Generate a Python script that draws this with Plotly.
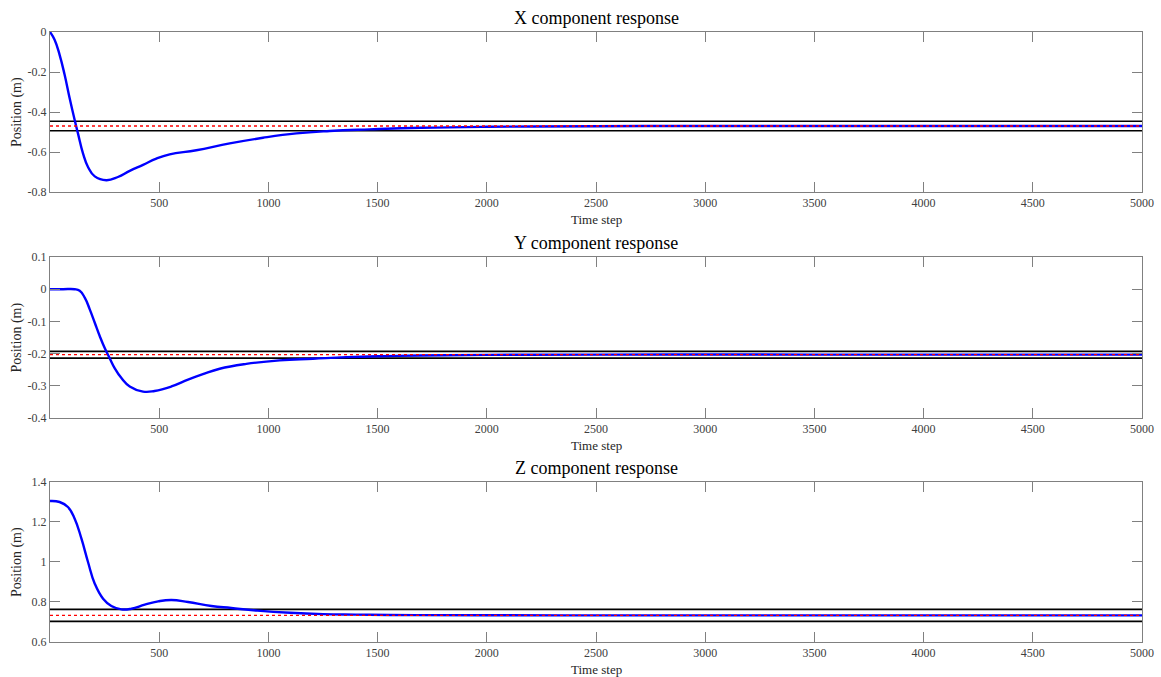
import plotly.graph_objects as go

# ---- data ----
x_steps = [0, 21, 44, 67, 90, 113, 128, 151, 174, 205, 258, 311, 365, 426, 487, 548, 670, 823,
           975, 1128, 1281, 1464, 1700, 2000, 2500, 3000, 4000, 5000]
x_pos = [0, -0.039, -0.114, -0.214, -0.331, -0.44, -0.507, -0.607, -0.675, -0.722, -0.741, -0.725,
         -0.694, -0.664, -0.633, -0.612, -0.591, -0.557, -0.529, -0.507, -0.495, -0.487, -0.479,
         -0.474, -0.471, -0.47, -0.47, -0.47]

y_steps = [0, 60, 113, 136, 159, 182, 205, 228, 250, 273, 296, 327, 365, 426, 479, 556, 632, 700,
           777, 899, 1052, 1204, 1357, 1510, 1693, 2000, 2500, 3500, 5000]
y_pos = [0, 0, 0, -0.005, -0.026, -0.0625, -0.104, -0.146, -0.182, -0.214, -0.245, -0.276, -0.302,
         -0.318, -0.316, -0.302, -0.281, -0.264, -0.247, -0.232, -0.221, -0.216, -0.211, -0.208,
         -0.206, -0.204, -0.203, -0.203, -0.203]

z_steps = [0, 44, 82, 113, 144, 174, 205, 243, 281, 327, 373, 434, 495, 556, 632, 739, 830, 950,
           1100, 1250, 1400, 1555, 2000, 3000, 4000, 5000]
z_pos = [1.305, 1.30, 1.275, 1.2165, 1.1165, 1.0, 0.8915, 0.8165, 0.78, 0.763, 0.7665, 0.7865,
         0.803, 0.81, 0.80, 0.78, 0.77, 0.757, 0.746, 0.7395, 0.737, 0.735, 0.7335, 0.733, 0.733,
         0.733]

targets = [-0.47, -0.203, 0.733]
upper_bounds = [-0.4465, -0.193, 0.763]
lower_bounds = [-0.4935, -0.214, 0.703]

titles = ["X component response", "Y component response", "Z component response"]
y_ranges = [[-0.8, 0], [-0.4, 0.1], [0.6, 1.4]]
y_tickvals = [[-0.8, -0.6, -0.4, -0.2, 0],
              [-0.4, -0.3, -0.2, -0.1, 0, 0.1],
              [0.6, 0.8, 1.0, 1.2, 1.4]]
y_ticktext = [["-0.8", "-0.6", "-0.4", "-0.2", "0"],
              ["-0.4", "-0.3", "-0.2", "-0.1", "0", "0.1"],
              ["0.6", "0.8", "1", "1.2", "1.4"]]
x_tickvals = [500, 1000, 1500, 2000, 2500, 3000, 3500, 4000, 4500, 5000]
x_end = 5000

# ---- figure ----
FONT = "Liberation Serif, Times New Roman, serif"
fig = go.Figure()
domains = [[0.7377, 1.0], [0.3672, 0.6311], [0.0, 0.2623]]
series = [(x_steps, x_pos), (y_steps, y_pos), (z_steps, z_pos)]

for i in range(3):
    xa = "x" if i == 0 else f"x{i+1}"
    ya = "y" if i == 0 else f"y{i+1}"
    steps, vals = series[i]
    for b in (upper_bounds[i], lower_bounds[i]):
        fig.add_trace(go.Scatter(x=[0, x_end], y=[b, b], mode="lines",
                                 line=dict(color="black", width=1.6),
                                 xaxis=xa, yaxis=ya, showlegend=False, hoverinfo="skip"))
    fig.add_trace(go.Scatter(x=steps, y=vals, mode="lines",
                             line=dict(color="#0000ff", width=2.4, shape="spline", smoothing=1.3),
                             xaxis=xa, yaxis=ya, showlegend=False))
    fig.add_trace(go.Scatter(x=[0, x_end], y=[targets[i], targets[i]], mode="lines",
                             line=dict(color="#ff0000", width=1.4, dash="dot"),
                             xaxis=xa, yaxis=ya, showlegend=False, hoverinfo="skip"))

    axis_common = dict(showgrid=False, zeroline=False, showline=True, linecolor="#808080",
                       linewidth=1, mirror="ticks", ticks="inside", ticklen=10, tickcolor="#808080",
                       automargin=False,
                       tickfont=dict(family=FONT, size=12, color="#404040"))
    fig.layout[f"xaxis{'' if i == 0 else i+1}"] = dict(
        domain=[0, 1], anchor=ya, range=[0, x_end], tickmode="array",
        tickvals=x_tickvals, ticktext=[str(v) for v in x_tickvals], **axis_common)
    fig.layout[f"yaxis{'' if i == 0 else i+1}"] = dict(
        domain=domains[i], anchor=xa, range=y_ranges[i], tickmode="array",
        tickvals=y_tickvals[i], ticktext=y_ticktext[i], **axis_common)

    top = domains[i][1]
    bot = domains[i][0]
    fig.add_annotation(text=titles[i], x=0.5, y=top, xref="paper", yref="paper",
                       xanchor="center", yanchor="bottom", yshift=2, showarrow=False,
                       font=dict(family=FONT, size=18, color="black"))
    fig.add_annotation(text="Time step", x=0.5, y=bot, xref="paper", yref="paper",
                       xanchor="center", yanchor="top", yshift=-18, showarrow=False,
                       font=dict(family=FONT, size=13, color="#262626"))
    fig.add_annotation(text="Position (m)", x=0, y=(top + bot) / 2, xref="paper", yref="paper",
                       xanchor="center", yanchor="middle", xshift=-33, textangle=-90,
                       showarrow=False, font=dict(family=FONT, size=14, color="#262626"))

fig.update_layout(template="none", width=1161, height=677,
                  margin=dict(l=50, r=19, t=32, b=35, autoexpand=False),
                  paper_bgcolor="white", plot_bgcolor="white", showlegend=False)

fig.write_html("out.html")
